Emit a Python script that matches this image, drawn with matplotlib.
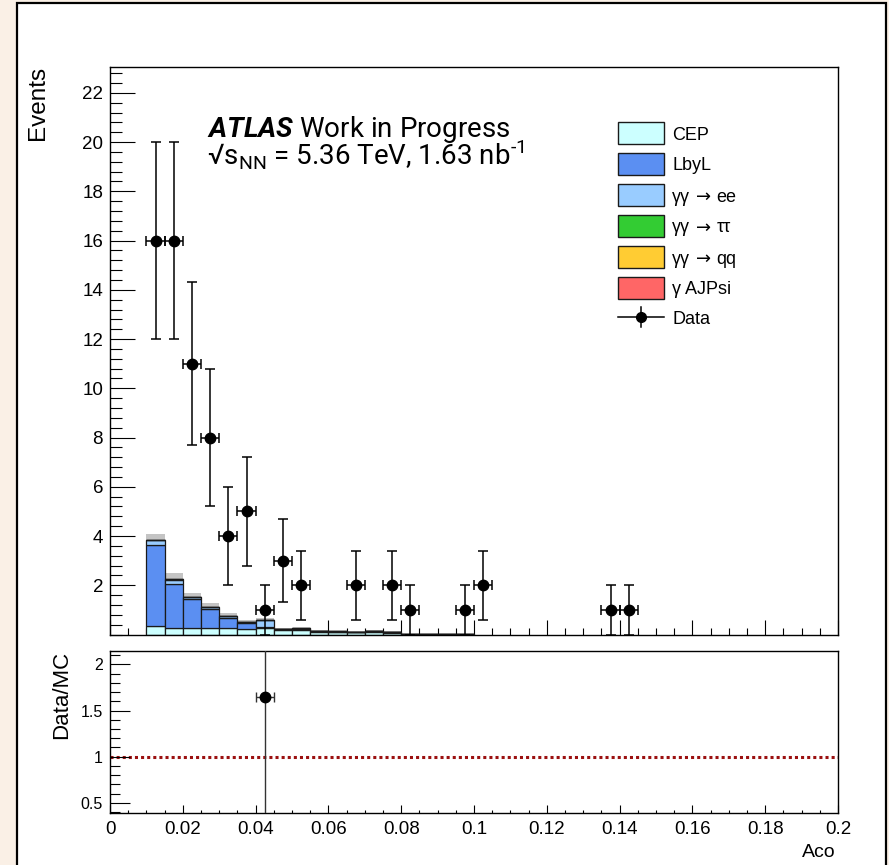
import matplotlib
matplotlib.use("Agg")
import matplotlib.pyplot as plt
from matplotlib.patches import Rectangle
from matplotlib.lines import Line2D
from matplotlib.ticker import MultipleLocator, FixedLocator

# ---- data ----
bin_width = 0.005

# observed events (bin centres)
data_x = [0.0125, 0.0175, 0.0225, 0.0275, 0.0325, 0.0375, 0.0425, 0.0475,
          0.0525, 0.0675, 0.0775, 0.0825, 0.0975, 0.1025, 0.1375, 0.1425]
data_y = [16, 16, 11, 8, 4, 5, 1, 3, 2, 2, 2, 1, 1, 2, 1, 1]
data_err = [4.0, 4.0, 3.3, 2.8, 2.0, 2.2, 1.0, 1.7, 1.4, 1.4, 1.4, 1.0,
            1.0, 1.4, 1.0, 1.0]

# MC stack (left bin edges)
mc_left = [0.010, 0.015, 0.020, 0.025, 0.030, 0.035, 0.040, 0.045, 0.050,
           0.055, 0.060, 0.065, 0.070, 0.075, 0.080, 0.085, 0.090, 0.095]
cep = [0.35, 0.28, 0.28, 0.28, 0.26, 0.24, 0.26, 0.18, 0.18, 0.12, 0.10,
       0.09, 0.11, 0.07, 0.01, 0.01, 0.01, 0.01]
lbyl = [3.30, 1.79, 1.15, 0.74, 0.40, 0.21, 0.05, 0.03, 0.03, 0.02, 0.02,
        0.02, 0.02, 0.02, 0.01, 0.01, 0.0, 0.0]
ee = [0.18, 0.16, 0.10, 0.11, 0.09, 0.06, 0.29, 0.03, 0.04, 0.01, 0.01,
      0.01, 0.02, 0.01, 0.0, 0.0, 0.0, 0.0]
tautau = [0.01, 0.01, 0.01, 0.005, 0.005, 0.005, 0.0, 0.0, 0.0, 0.0, 0.0,
          0.0, 0.0, 0.0, 0.0, 0.0, 0.0, 0.0]
qq = [0.0] * 18
ajpsi = [0.0] * 18
mc_err = [0.24, 0.24, 0.14, 0.16, 0.11, 0.06, 0.08, 0.03, 0.03, 0.02, 0.02,
          0.02, 0.03, 0.06, 0.01, 0.01, 0.01, 0.01]

# ratio panel
ratio_x = [0.0425]
ratio_y = [1.65]
ratio_err = [2.0]

x_ticks = [0, 0.02, 0.04, 0.06, 0.08, 0.1, 0.12, 0.14, 0.16, 0.18, 0.2]
x_ticklabels = ["0", "0.02", "0.04", "0.06", "0.08", "0.1", "0.12",
                "0.14", "0.16", "0.18", "0.2"]

# legend labels: (before arrow, after arrow); None = no arrow
labels = [("CEP", None), ("LbyL", None), ("γγ", "ee"), ("γγ", "ττ"),
          ("γγ", "qq"), ("γ AJPsi", None)]
colors = ["#ccffff", "#5b8ff2", "#99ccff", "#33cc33", "#ffcc33", "#ff6666"]

plt.rcParams["font.family"] = ["Liberation Sans", "DejaVu Sans"]
plt.rcParams["mathtext.fontset"] = "custom"
plt.rcParams["mathtext.rm"] = "Roboto"
plt.rcParams["mathtext.bfit"] = "Roboto:italic:bold"

W, H = 889, 865


def fx(px):
    return px / W


def fy(py):
    return 1 - py / H


fig = plt.figure(figsize=(W / 100, H / 100), dpi=100)
fig.patch.set_facecolor("#faf0e6")
fig.add_artist(Rectangle((fx(17), -0.01), (886 - 17) / W, 1.01 - 3 / H,
                         transform=fig.transFigure, facecolor="white",
                         edgecolor="black", linewidth=1.6, zorder=-5))

ax = fig.add_axes([fx(110), fy(634.5), (838 - 110) / W, (634.5 - 67) / H])
rax = fig.add_axes([fx(110), fy(813), (838 - 110) / W, (813 - 651) / H])

# uncertainty band behind the stack
totals = [sum(v) for v in zip(cep, lbyl, ee, tautau, qq, ajpsi)]
ax.bar(mc_left, [2 * e for e in mc_err], width=bin_width, align="edge",
       bottom=[t - e for t, e in zip(totals, mc_err)], color="#c4c4c4",
       linewidth=0, zorder=1)

bottom = [0.0] * len(mc_left)
for comp, col in zip([cep, lbyl, ee, tautau, qq, ajpsi], colors):
    ax.bar(mc_left, comp, width=bin_width, align="edge", bottom=bottom,
           color=col, edgecolor="#1a1a1a", linewidth=0.9, zorder=2)
    bottom = [b + c for b, c in zip(bottom, comp)]

ax.errorbar(data_x, data_y, yerr=data_err, xerr=bin_width / 2, fmt="o",
            color="black", markersize=7.5, elinewidth=1.1, capsize=3.5,
            capthick=1.1, zorder=5)

ax.set_xlim(0, 0.2)
ax.set_ylim(0, 23.05)
ax.xaxis.set_major_locator(FixedLocator(x_ticks))
ax.xaxis.set_minor_locator(MultipleLocator(0.005))
ax.yaxis.set_major_locator(FixedLocator([2, 4, 6, 8, 10, 12, 14, 16, 18, 20, 22]))
ax.yaxis.set_minor_locator(MultipleLocator(0.4))
ax.tick_params(axis="x", which="major", direction="in", length=10.5, width=0.8,
               labelbottom=False)
ax.tick_params(axis="x", which="minor", direction="in", length=5, width=0.8)
ax.tick_params(axis="y", which="major", direction="in", length=18, width=0.8,
               labelsize=13.5, pad=5)
ax.tick_params(axis="y", which="minor", direction="in", length=8.6, width=0.8)
for s in ax.spines.values():
    s.set_linewidth(1.0)

fig.text(fx(38), fy(66), "Events", rotation=90, ha="center", va="top",
         fontsize=17.5)

# ATLAS label (one text block, two lines; anchored on last baseline)
atlas_text = ("$\\mathbfit{ATLAS}$ Work in Progress\n"
              "√s$_{\\mathrm{NN}}$ = 5.36 TeV, 1.63 nb$^{\\mathrm{\u2010}1}$")
fig.text(fx(207), fy(164), atlas_text, fontfamily=["Roboto", "DejaVu Sans"],
         fontsize=20, va="baseline", ha="left", linespacing=0.7)

# legend, drawn by hand in ROOT style
row0, row_step = 133, 31
for i, ((pre, post), col) in enumerate(zip(labels, colors)):
    yc = row0 + row_step * i
    fig.add_artist(Rectangle((fx(618), fy(yc + 11)), 46 / W, 22 / H,
                             transform=fig.transFigure, facecolor=col,
                             edgecolor="#1a1a1a", linewidth=1.0))
    t = fig.text(fx(672), fy(yc), pre, fontsize=13, va="center_baseline",
                 ha="left")
    if post is not None:
        a = ax.annotate("→", xy=(1, 0), xycoords=t, xytext=(4.5, 0),
                        textcoords="offset points", ha="left", va="bottom",
                        fontfamily="DejaVu Sans", fontsize=13,
                        annotation_clip=False)
        ax.annotate(post, xy=(1, 0), xycoords=a, xytext=(3.5, 0),
                    textcoords="offset points", ha="left", va="bottom",
                    fontsize=13, annotation_clip=False)

yd = row0 + row_step * len(labels) - 2
fig.add_artist(Line2D([fx(618), fx(664)], [fy(yd), fy(yd)],
                      transform=fig.transFigure, color="black", linewidth=1.1))
fig.add_artist(Line2D([fx(641), fx(641)], [fy(yd - 10), fy(yd + 10)],
                      transform=fig.transFigure, color="black", linewidth=1.1))
fig.add_artist(Line2D([fx(641)], [fy(yd)], transform=fig.transFigure,
                      color="black", marker="o", markersize=7))
fig.text(fx(672), fy(yd), "Data", fontsize=13, va="center_baseline", ha="left")

# ratio panel
rax.axhline(1.0, color="#9b1010", linewidth=2.2, linestyle=(0, (1.0, 1.0)),
            zorder=1)
rax.errorbar(ratio_x, ratio_y, yerr=ratio_err, xerr=bin_width / 2, fmt="o",
             color="black", ecolor="#333333", markersize=7.5, elinewidth=1.0,
             capsize=3.5, capthick=1.0, zorder=5)
rax.set_xlim(0, 0.2)
rax.set_ylim(0.39, 2.145)
rax.xaxis.set_major_locator(FixedLocator(x_ticks))
rax.xaxis.set_minor_locator(MultipleLocator(0.005))
rax.set_xticklabels(x_ticklabels)
rax.yaxis.set_major_locator(FixedLocator([0.5, 1.0, 1.5, 2.0]))
rax.yaxis.set_minor_locator(MultipleLocator(0.1))
rax.set_yticklabels(["0.5", "1", "1.5", "2"])
rax.tick_params(axis="x", which="major", direction="in", length=5.5, width=0.8,
                labelsize=13.5, pad=6)
rax.tick_params(axis="x", which="minor", direction="in", length=2.5, width=0.8)
rax.tick_params(axis="y", which="major", direction="in", length=14.4, width=0.8,
                labelsize=11.5, pad=5)
rax.tick_params(axis="y", which="minor", direction="in", length=7.2, width=0.8)
for s in rax.spines.values():
    s.set_linewidth(1.0)

fig.text(fx(62), fy(651), "Data/MC", rotation=90, ha="center", va="top",
         fontsize=16)
fig.text(fx(836), fy(861), "Aco", ha="right", va="bottom", fontsize=14)

fig.savefig("out.png", dpi=100, facecolor=fig.get_facecolor())
